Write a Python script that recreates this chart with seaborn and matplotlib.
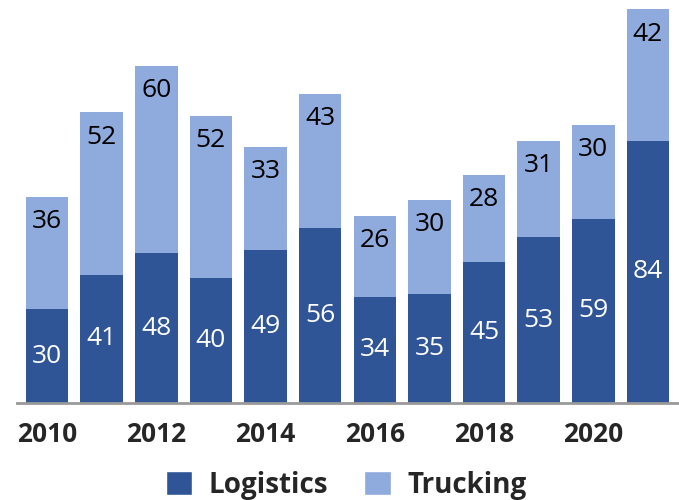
import numpy as np
import pandas as pd
import matplotlib
matplotlib.use("Agg")
import matplotlib.pyplot as plt
from matplotlib.patches import Patch
import seaborn as sns

years = [2010, 2011, 2012, 2013, 2014, 2015, 2016, 2017, 2018, 2019, 2020, 2021]
logistics = [30, 41, 48, 40, 49, 56, 34, 35, 45, 53, 59, 84]
trucking = [36, 52, 60, 52, 33, 43, 26, 30, 28, 31, 30, 42]

dark = "#2F5597"
light = "#8FAADC"

sns.set_style("white")
plt.rcParams['font.family'] = ['Open Sans', 'DejaVu Sans']

df = pd.DataFrame({"year": [str(y) for y in years], "Logistics": logistics, "Trucking": trucking})
df["total"] = df["Logistics"] + df["Trucking"]

fig = plt.figure(figsize=(6.79, 5.0), dpi=100)
ax = fig.add_axes([17/679, 97/500, 661/679, 403/500])

# stacked: totals in light, logistics over it in dark
sns.barplot(data=df, x="year", y="total", color=light, saturation=1, width=0.78,
            linewidth=0, ax=ax)
sns.barplot(data=df, x="year", y="Logistics", color=dark, saturation=1, width=0.78,
            linewidth=0, ax=ax)

ax.set_xlim(-0.55, 11.55)
ax.set_ylim(0, 129)

# value labels
for i, row in df.iterrows():
    ax.text(i, row["Logistics"] / 2, str(row["Logistics"]), ha="center", va="center",
            color="white", fontsize=19)
    ax.annotate(str(row["Trucking"]), xy=(i, row["total"]), xytext=(0, -18),
                textcoords="offset points", ha="center", va="center",
                color="black", fontsize=19)

ax.set_xticks(range(len(years)))
ax.set_xticklabels([str(y) if y % 2 == 0 else "" for y in years],
                   fontsize=19, fontweight="bold")
ax.tick_params(axis="x", length=0, pad=13)
ax.set_yticks([])
ax.set_xlabel("")
ax.set_ylabel("")
for s in ["top", "right", "left"]:
    ax.spines[s].set_visible(False)
ax.spines["bottom"].set_color("#999999")
ax.spines["bottom"].set_linewidth(2)

handles = [Patch(facecolor=dark, label="Logistics"), Patch(facecolor=light, label="Trucking")]
fig.legend(handles=handles, loc="center", bbox_to_anchor=(0.51, 0.03), ncol=2, frameon=False,
           prop={"size": 20, "weight": "bold"}, handlelength=0.95, handleheight=0.95,
           handletextpad=0.6, columnspacing=1.3)

fig.savefig("out.png", dpi=100)
